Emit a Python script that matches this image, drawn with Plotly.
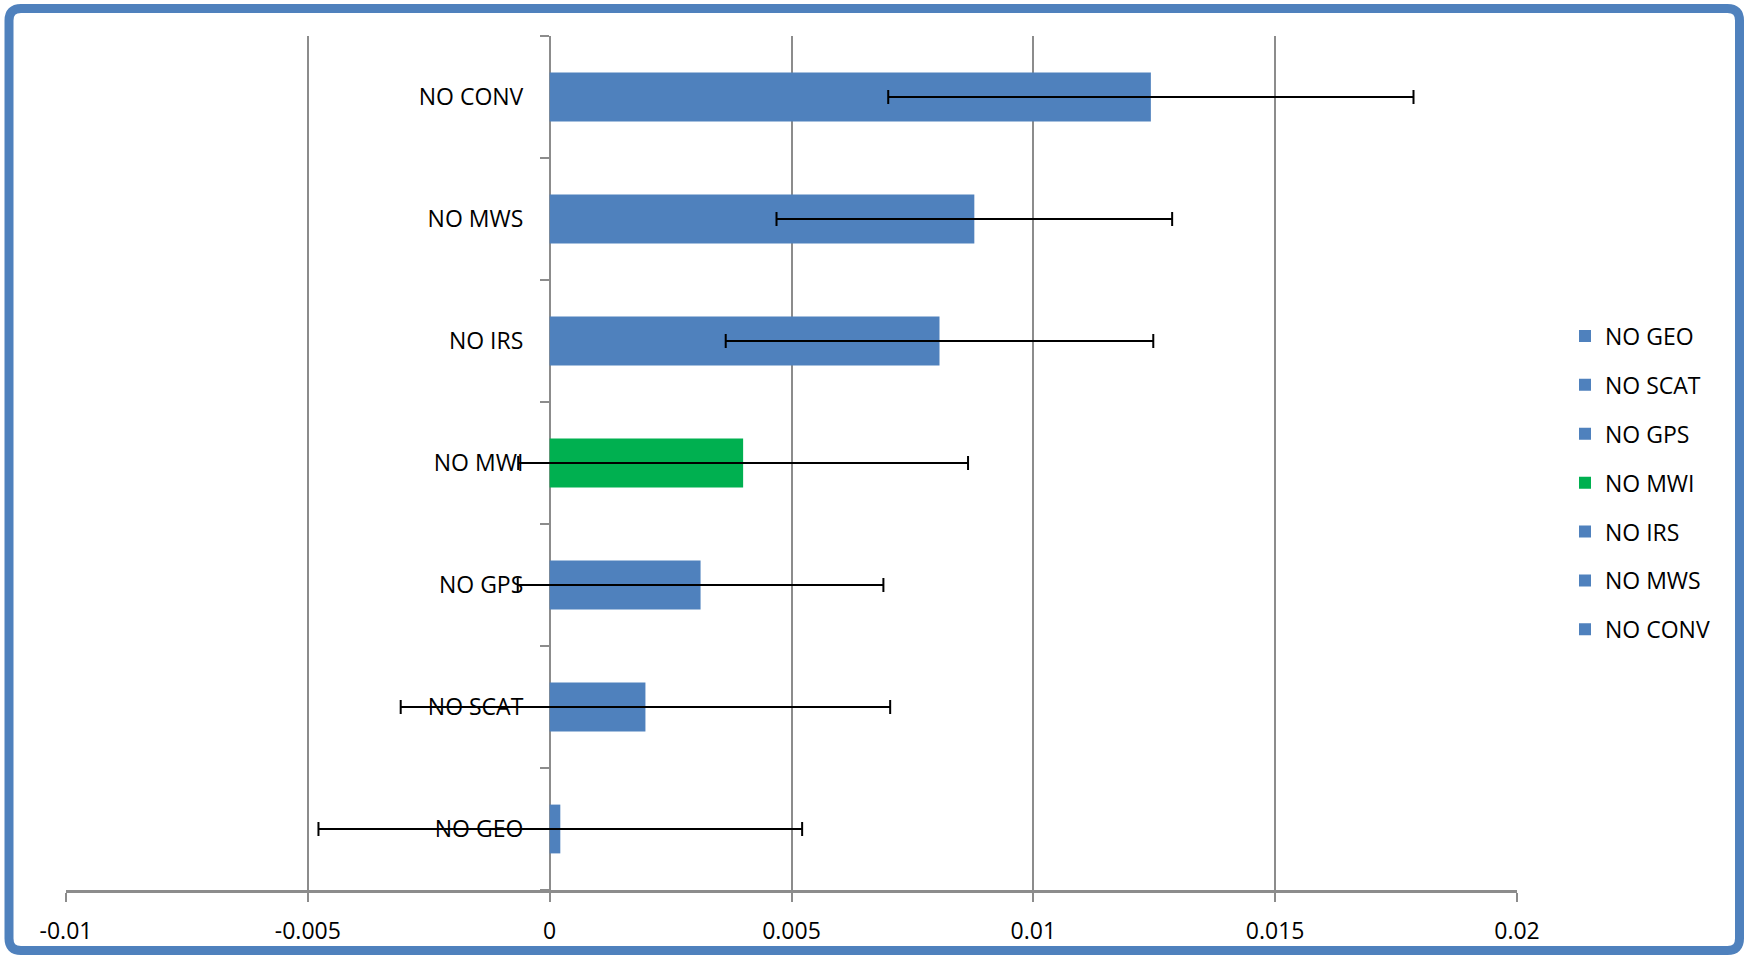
import plotly.graph_objects as go

categories = ["NO GEO", "NO SCAT", "NO GPS", "NO MWI", "NO IRS", "NO MWS", "NO CONV"]
values = [0.00022, 0.00198, 0.00312, 0.00400, 0.00806, 0.00878, 0.01243]
errors = [0.00500, 0.00506, 0.00378, 0.00465, 0.00442, 0.00409, 0.00543]
colors = ["#4F81BD", "#4F81BD", "#4F81BD", "#00B050", "#4F81BD", "#4F81BD", "#4F81BD"]
x_ticks = [-0.01, -0.005, 0, 0.005, 0.01, 0.015, 0.02]
x_tick_labels = ["-0.01", "-0.005", "0", "0.005", "0.01", "0.015", "0.02"]

W, H = 1748, 957
ML, MR, MT, MB = 66, 231, 36, 67
PW, PH = W - ML - MR, H - MT - MB
FONT = "Open Sans"
FS = 23

fig = go.Figure()
for cat, val, err, col in zip(categories, values, errors, colors):
    fig.add_trace(go.Bar(
        y=[cat], x=[val], orientation="h", name=cat, legendgroup=cat,
        marker=dict(color=col, line=dict(width=0)), width=0.4,
        error_x=dict(type="data", array=[err], symmetric=True,
                     color="black", thickness=2, width=7),
    ))

# figure-pixel -> paper helpers for the rounded frame
def px(x):
    return (x - ML) / PW

def py(y):
    return (H - MB - y) / PH

x0, y0, x1, y1, r = 9, 8.5, 1739.5, 950.5, 12
path = (
    f"M {px(x0 + r)},{py(y0)} L {px(x1 - r)},{py(y0)} "
    f"Q {px(x1)},{py(y0)} {px(x1)},{py(y0 + r)} "
    f"L {px(x1)},{py(y1 - r)} Q {px(x1)},{py(y1)} {px(x1 - r)},{py(y1)} "
    f"L {px(x0 + r)},{py(y1)} Q {px(x0)},{py(y1)} {px(x0)},{py(y1 - r)} "
    f"L {px(x0)},{py(y0 + r)} Q {px(x0)},{py(y0)} {px(x0 + r)},{py(y0)} Z"
)
fig.add_shape(type="path", path=path, xref="paper", yref="paper",
              line=dict(color="#4F81BD", width=9), layer="above")

fig.update_layout(
    width=W, height=H,
    margin=dict(l=ML, r=MR, t=MT, b=MB),
    paper_bgcolor="white", plot_bgcolor="white",
    barmode="overlay",
    font=dict(family=FONT, size=FS, color="black"),
    showlegend=True,
    legend=dict(
        x=(1565 - ML) / PW, xanchor="left",
        y=1 - (483 - MT) / PH, yanchor="middle",
        traceorder="grouped", tracegroupgap=16,
        font=dict(family=FONT, size=FS, color="black"),
        bgcolor="rgba(0,0,0,0)",
    ),
    xaxis=dict(
        range=[-0.01, 0.02], tickvals=x_ticks, ticktext=x_tick_labels,
        showgrid=True, gridcolor="#8C8C8C", gridwidth=1.5,
        zeroline=False, showline=True, linecolor="#8C8C8C", linewidth=3,
        ticks="outside", ticklen=9, tickcolor="#8C8C8C", tickwidth=1.5,
        ticklabelstandoff=9,
        tickfont=dict(family=FONT, size=FS, color="black"),
        fixedrange=True,
    ),
    yaxis=dict(
        type="category", categoryorder="array", categoryarray=categories,
        anchor="free", position=1 / 3,
        showgrid=False, zeroline=False,
        showline=True, linecolor="#8C8C8C", linewidth=1.5,
        ticks="outside", ticklen=9, tickcolor="#8C8C8C", tickwidth=1.5,
        tickson="boundaries", ticklabelstandoff=21,
        tickfont=dict(family=FONT, size=FS, color="black"),
        layer="below traces",
        fixedrange=True,
    ),
)

fig.write_html(
    "out.html",
    config={"displayModeBar": False},
    post_script="document.body.style.margin='0px';document.body.style.overflow='hidden';",
)
